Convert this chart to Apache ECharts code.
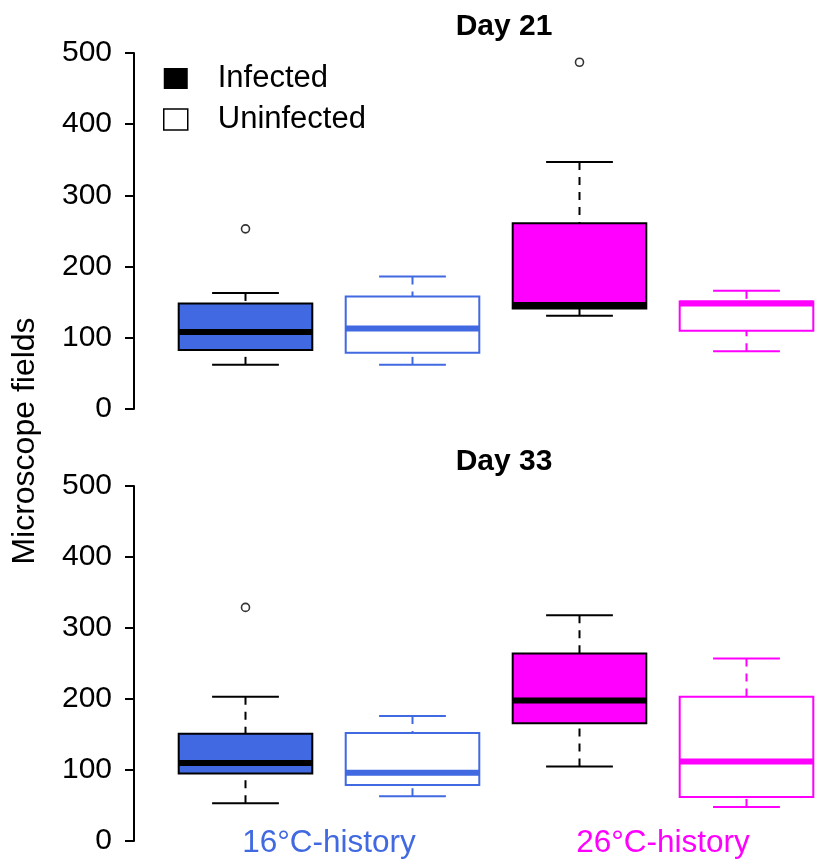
<!DOCTYPE html>
<html>
<head>
<meta charset="utf-8">
<script src="https://cdn.jsdelivr.net/npm/echarts@6/dist/echarts.min.js"></script>
<style>
  html, body { margin: 0; padding: 0; background: #fff; }
  #chart { width: 830px; height: 859px; }
</style>
</head>
<body>
<div id="chart"></div>
<script>
// Box positions: infected / uninfected for each thermal history
const boxCategories = ['16°C infected', '16°C uninfected', '26°C infected', '26°C uninfected'];
const historyLabels = ['16°C-history', '26°C-history'];
const panelTitles = ['Day 21', 'Day 33'];
const yTicks = [0, 100, 200, 300, 400, 500];

// Five-number summaries: [category index, lower whisker, Q1, median, Q3, upper whisker]
const day21Infected = [
  [0, 62, 83, 108, 148, 163],
  [2, 131, 141, 146, 261, 347]
];
const day21Uninfected = [
  [1, 62, 79, 113, 158, 186],
  [3, 81, 110, 148, 151, 166]
];
const day33Infected = [
  [0, 53, 95, 110, 151, 203],
  [2, 105, 166, 198, 264, 318]
];
const day33Uninfected = [
  [1, 63, 79, 96, 152, 176],
  [3, 48, 62, 112, 203, 257]
];

// Outlying points: [category index, value]
const day21Outliers = [[0, 253], [2, 487]];
const day33Outliers = [[0, 329]];

// Colour per thermal history (by category index)
const historyColors = ['#4169E1', '#4169E1', '#FF00FF', '#FF00FF'];
const labelColors = ['#4169E1', '#FF00FF'];

const FONT = 'Liberation Sans, Arial, Helvetica, sans-serif';

function makeBoxRenderer(filled) {
  return function (params, api) {
    const cat = api.value(0);
    const lo = api.value(1), q1 = api.value(2), med = api.value(3), q3 = api.value(4), hi = api.value(5);
    const col = historyColors[cat];
    const edge = filled ? '#000' : col;
    const bw = api.size([1, 0])[0] * 0.8;
    const capW = bw / 2;
    const pLo = api.coord([cat, lo]);
    const pQ1 = api.coord([cat, q1]);
    const pMed = api.coord([cat, med]);
    const pQ3 = api.coord([cat, q3]);
    const pHi = api.coord([cat, hi]);
    const cx = pMed[0];
    const lineW = 2;
    return {
      type: 'group',
      children: [
        // whiskers, dashed from the cap towards the box
        { type: 'line', shape: { x1: cx, y1: pHi[1], x2: cx, y2: pQ3[1] },
          style: { stroke: edge, lineWidth: lineW, lineDash: [8, 7] } },
        { type: 'line', shape: { x1: cx, y1: pLo[1], x2: cx, y2: pQ1[1] },
          style: { stroke: edge, lineWidth: lineW, lineDash: [8, 7] } },
        // staples
        { type: 'line', shape: { x1: cx - capW / 2, y1: pHi[1], x2: cx + capW / 2, y2: pHi[1] },
          style: { stroke: edge, lineWidth: lineW } },
        { type: 'line', shape: { x1: cx - capW / 2, y1: pLo[1], x2: cx + capW / 2, y2: pLo[1] },
          style: { stroke: edge, lineWidth: lineW } },
        // box
        { type: 'rect', shape: { x: cx - bw / 2, y: pQ3[1], width: bw, height: pQ1[1] - pQ3[1] },
          style: { fill: filled ? col : '#fff', stroke: edge, lineWidth: lineW } },
        // median
        { type: 'line', shape: { x1: cx - bw / 2, y1: pMed[1], x2: cx + bw / 2, y2: pMed[1] },
          style: { stroke: edge, lineWidth: 6 } }
      ]
    };
  };
}

const gridLeft = 162;
const gridWidth = 686;
const grids = [
  { left: gridLeft, width: gridWidth, top: 53, height: 356 },
  { left: gridLeft, width: gridWidth, top: 486, height: 355.5 }
];

function yAxisFor(i) {
  return {
    type: 'value', gridIndex: i, min: 0, max: 500, interval: 100, offset: 28,
    axisLine: { show: true, lineStyle: { color: '#000', width: 2 } },
    axisTick: { show: true, length: 9, lineStyle: { color: '#000', width: 2 } },
    axisLabel: {
      color: '#000', fontSize: 30, fontFamily: FONT, margin: 22,
      formatter: v => (yTicks.includes(v) ? String(v) : '')
    },
    splitLine: { show: false }
  };
}

function boxAxisFor(i) {
  return {
    type: 'category', gridIndex: i, data: boxCategories, boundaryGap: true,
    axisLine: { show: false }, axisTick: { show: false }, axisLabel: { show: false },
    splitLine: { show: false }
  };
}

const option = {
  backgroundColor: '#fff',
  animation: false,
  title: panelTitles.map((t, i) => ({
    text: t,
    left: 504, textAlign: 'center',
    top: i === 0 ? 12 : 447,
    padding: 0,
    textStyle: { fontSize: 30, fontWeight: 'bold', fontFamily: FONT, color: '#000' }
  })),
  legend: {
    left: 163, top: 63, orient: 'vertical', padding: 0,
    itemWidth: 24, itemHeight: 21, itemGap: 10,
    selectedMode: false,
    textStyle: { fontSize: 31, fontFamily: FONT, color: '#000', padding: [0, 0, 0, 25] },
    data: [
      { name: 'Infected', icon: 'rect', itemStyle: { color: '#000', borderWidth: 0 } },
      { name: 'Uninfected', icon: 'rect', itemStyle: { color: '#fff', borderColor: '#000', borderWidth: 1.5 } }
    ]
  },
  grid: grids,
  xAxis: [
    boxAxisFor(0),
    boxAxisFor(1),
    {
      type: 'category', gridIndex: 1, data: historyLabels, position: 'bottom',
      axisLine: { show: false }, axisTick: { show: false },
      axisLabel: {
        fontSize: 31.5, fontFamily: FONT, margin: -14,
        color: (v, idx) => labelColors[idx]
      }
    }
  ],
  yAxis: [yAxisFor(0), yAxisFor(1)],
  graphic: [{
    type: 'text', x: 25, y: 441, rotation: Math.PI / 2,
    style: {
      text: 'Microscope fields', fontSize: 32, fontFamily: FONT, fill: '#000',
      textAlign: 'center', textVerticalAlign: 'middle'
    }
  }],
  series: [
    { name: 'Infected', type: 'custom', xAxisIndex: 0, yAxisIndex: 0,
      itemStyle: { color: '#000' },
      renderItem: makeBoxRenderer(true), data: day21Infected, encode: { x: 0, y: [1, 2, 3, 4, 5] } },
    { name: 'Uninfected', type: 'custom', xAxisIndex: 0, yAxisIndex: 0,
      itemStyle: { color: '#fff' },
      renderItem: makeBoxRenderer(false), data: day21Uninfected, encode: { x: 0, y: [1, 2, 3, 4, 5] } },
    { name: 'Infected', type: 'custom', xAxisIndex: 1, yAxisIndex: 1,
      itemStyle: { color: '#000' },
      renderItem: makeBoxRenderer(true), data: day33Infected, encode: { x: 0, y: [1, 2, 3, 4, 5] } },
    { name: 'Uninfected', type: 'custom', xAxisIndex: 1, yAxisIndex: 1,
      itemStyle: { color: '#fff' },
      renderItem: makeBoxRenderer(false), data: day33Uninfected, encode: { x: 0, y: [1, 2, 3, 4, 5] } },
    { name: 'outliers21', type: 'scatter', xAxisIndex: 0, yAxisIndex: 0,
      symbol: 'circle', symbolSize: 8,
      itemStyle: { color: '#fff', borderColor: '#000', borderWidth: 1.6 },
      data: day21Outliers },
    { name: 'outliers33', type: 'scatter', xAxisIndex: 1, yAxisIndex: 1,
      symbol: 'circle', symbolSize: 8,
      itemStyle: { color: '#fff', borderColor: '#000', borderWidth: 1.6 },
      data: day33Outliers }
  ]
};

const chart = echarts.init(document.getElementById('chart'), null, { renderer: 'canvas' });
chart.setOption(option);
</script>
</body>
</html>
